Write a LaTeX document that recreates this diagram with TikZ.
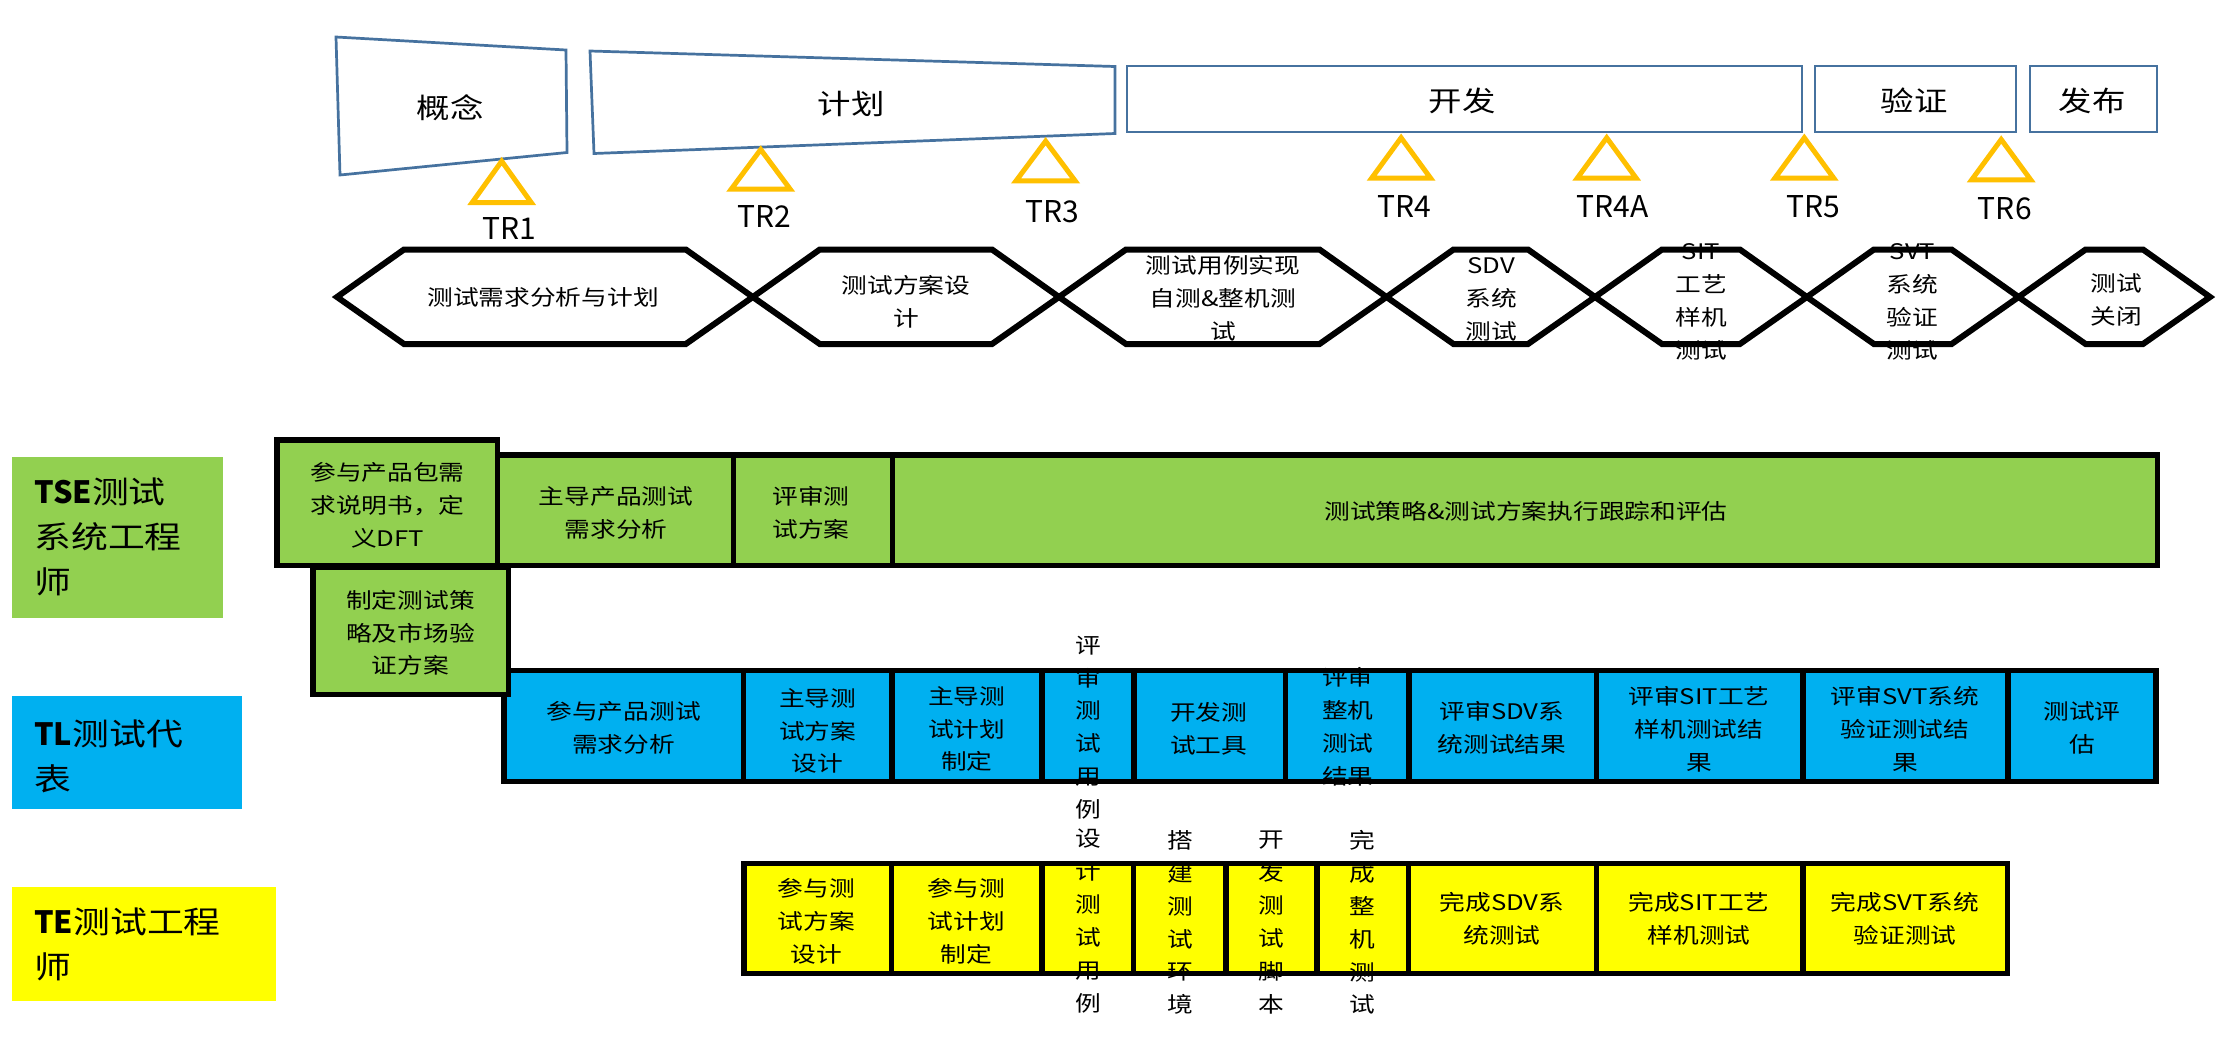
\documentclass[tikz,border=0pt]{standalone}
\usepackage{fontspec}
\setmainfont{Noto Sans CJK SC}[FakeStretch=1.2]
\newfontfamily\trfont{Noto Sans CJK SC}
\definecolor{phaseblue}{HTML}{46729F}
\definecolor{trorange}{HTML}{FFC000}
\definecolor{tgreen}{HTML}{92D050}
\definecolor{tblue}{HTML}{00B0F0}
\definecolor{tyellow}{HTML}{FFFF00}
\tikzset{
  phase/.style={draw=phaseblue, line width=1.9pt, line join=miter},
  trtri/.style={draw=trorange, line width=3.5pt, line join=miter},
  hexs/.style={draw=black, line width=4.2pt, line join=miter},
  cellline/.style={draw=black, line width=3.85pt, line join=miter},
  lbl/.style={font=\fontsize{15}{23}\selectfont, align=center, inner sep=0pt},
  phl/.style={font=\fontsize{19.5}{24}\selectfont, inner sep=0pt},
  trl/.style={font=\trfont\fontsize{21}{25}\selectfont, inner sep=0pt},
  rolel/.style={font=\fontsize{21.5}{31.5}\selectfont, align=left, anchor=west, inner sep=0pt},
}
\newcommand{\rolelat}[1]{{\trfont\bfseries #1}}
\newcommand{\hexa}[2]{\draw[hexs] (#1,297) -- (#1+67,249.5) -- (#2-67,249.5) -- (#2,297) -- (#2-67,344) -- (#1+67,344) -- cycle;}
\newcommand{\trimark}[3]{\draw[trtri] (#1,#2+4.5) -- (#1+29.5,#3-2.5) -- (#1-29.5,#3-2.5) -- cycle;}
\begin{document}
\begin{tikzpicture}[x=0.7pt,y=-0.7pt]
\useasboundingbox[fill=white] (0,0) rectangle (2235,1059);

% ---------- phases ----------
\draw[phase] (336,37) -- (566,50) -- (567,152.5) -- (340,175) -- cycle;
\node[phl] (p1) at (450,108) {概念};
\draw[phase] (590,51) -- (1115,66.5) -- (1115,133.5) -- (594,153.5) -- cycle;
\node[phl] (p2) at (851,104) {计划};
\draw[phase] (1127,66) rectangle (1802,132);
\node[phl] (p3) at (1462,101) {开发};
\draw[phase] (1815,66) rectangle (2016,132);
\node[phl] (p4) at (1914,101) {验证};
\draw[phase] (2030,66) rectangle (2157,132);
\node[phl] (p5) at (2092,101) {发布};

% ---------- TR milestones ----------
\trimark{501.7}{156.7}{205}
\node[trl] (tr1) at (509.5,228) {TR1};
\trimark{760.7}{145}{191.7}
\node[trl] (tr2) at (764,216.7) {TR2};
\trimark{1045.6}{136.7}{183.3}
\node[trl] (tr3) at (1052,211.7) {TR3};
\trimark{1401.1}{133.3}{180.7}
\node[trl] (tr4) at (1404,206.7) {TR4};
\trimark{1606.7}{133.3}{180.7}
\node[trl] (tr4a) at (1612.5,206.7) {TR4A};
\trimark{1804.3}{133.3}{180.7}
\node[trl] (tr5) at (1813,206.7) {TR5};
\trimark{2001.2}{135}{182.3}
\node[trl] (tr6) at (2004.8,208.3) {TR6};

% ---------- hexagon stages ----------
\node[lbl] (h1) at (543,297) {测试需求分析与计划};
\node[lbl] (h2) at (906,302) {测试方案设\\计};
\node[lbl] (h3) at (1223,298) {测试用例实现\\自测\&整机测\\试};
\node[lbl] (h4) at (1491,299) {SDV\\系统\\测试};
\node[lbl] (h5) at (1701,302) {SIT\\工艺\\样机\\测试};
\node[lbl] (h6) at (1912.5,302) {SVT\\系统\\验证\\测试};
\node[lbl] (h7) at (2116,300) {测试\\关闭};
\hexa{337}{752.8}
\hexa{752.8}{1059}
\hexa{1059}{1386.5}
\hexa{1386.5}{1595}
\hexa{1595}{1806.9}
\hexa{1806.9}{2018.6}
\hexa{2018.6}{2210}

% ---------- role labels ----------
\fill[tgreen] (11.5,457.3) rectangle (222.7,617.7);
\node[rolel] (tse) at (34,537) {\rolelat{TSE}测试\\系统工程\\师};
\fill[tblue] (11.5,695.7) rectangle (242.3,809.3);
\node[rolel] (tl) at (34,756) {\rolelat{TL}测试代\\表};
\fill[tyellow] (11.5,887.3) rectangle (275.5,1001.3);
\node[rolel] (te) at (34,944) {\rolelat{TE}测试工程\\师};

% ---------- TL row (blue) ----------
\fill[tblue] (504,670.7) rectangle (2156,781.7);
\node[lbl] (b1) at (623.7,728) {参与产品测试\\需求分析};
\node[lbl] (b2) at (817.6,731) {主导测\\试方案\\设计};
\node[lbl] (b3) at (966.8,729) {主导测\\试计划\\制定};
\node[lbl] (b4) at (1088,727.5) {评\\审\\测\\试\\用\\例};
\node[lbl] (b5) at (1208.6,729) {开发测\\试工具};
\node[lbl] (b6) at (1347.9,727) {评审\\整机\\测试\\结果};
\node[lbl] (b7) at (1502,727.5) {评审SDV系\\统测试结果};
\node[lbl] (b8) at (1699,729) {评审SIT工艺\\样机测试结\\果};
\node[lbl] (b9) at (1905,729) {评审SVT系统\\验证测试结\\果};
\node[lbl] (b10) at (2082,727.5) {测试评\\估};
\foreach \a/\b in {504/743.4,743.4/891.8,891.8/1041.8,1041.8/1133.9,1133.9/1285.7,1285.7/1408.9,1408.9/1596.5,1596.5/1803,1803/2008,2008/2156}
  \draw[cellline] (\a,670.7) rectangle (\b,781.7);

% ---------- TE row (yellow) ----------
\fill[tyellow] (743.8,863.3) rectangle (2007.5,973.3);
\node[lbl] (y1) at (816.3,921) {参与测\\试方案\\设计};
\node[lbl] (y2) at (966.5,921) {参与测\\试计划\\制定};
\node[lbl] (y3) at (1088,921) {设\\计\\测\\试\\用\\例};
\node[lbl] (y4) at (1180,922.5) {搭\\建\\测\\试\\环\\境};
\node[lbl] (y5) at (1271.8,922.5) {开\\发\\测\\试\\脚\\本};
\node[lbl] (y6) at (1362.7,922.5) {完\\成\\整\\机\\测\\试};
\node[lbl] (y7) at (1502,919) {完成SDV系\\统测试};
\node[lbl] (y8) at (1699,919) {完成SIT工艺\\样机测试};
\node[lbl] (y9) at (1905,919) {完成SVT系统\\验证测试};
\foreach \a/\b in {743.8/891.6,891.6/1042,1042/1133.3,1133.3/1225.9,1225.9/1316.8,1316.8/1408.3,1408.3/1596.6,1596.6/1803,1803/2007.5}
  \draw[cellline] (\a,863.3) rectangle (\b,973.3);

% ---------- TSE row (green) ----------
\filldraw[tgreen, cellline] (497.7,455) rectangle (733.6,565.7);
\filldraw[tgreen, cellline] (733.6,455) rectangle (892.7,565.7);
\filldraw[tgreen, cellline] (892.7,455) rectangle (2157.5,565.7);
\node[lbl] (g2) at (616,512.5) {主导产品测试\\需求分析};
\node[lbl] (g3) at (811,512.5) {评审测\\试方案};
\node[lbl] (g4) at (1526,511.7) {测试策略\&测试方案执行跟踪和评估};
\filldraw[tgreen, cellline] (277,440) rectangle (497.7,565.5);
\node[lbl] (g1) at (387.5,505) {参与产品包需\\求说明书，定\\义DFT};
\filldraw[tgreen, cellline] (312.9,567) rectangle (508.6,694.3);
\node[lbl] (g5) at (410.5,632.8) {制定测试策\\略及市场验\\证方案};
\end{tikzpicture}
\end{document}
